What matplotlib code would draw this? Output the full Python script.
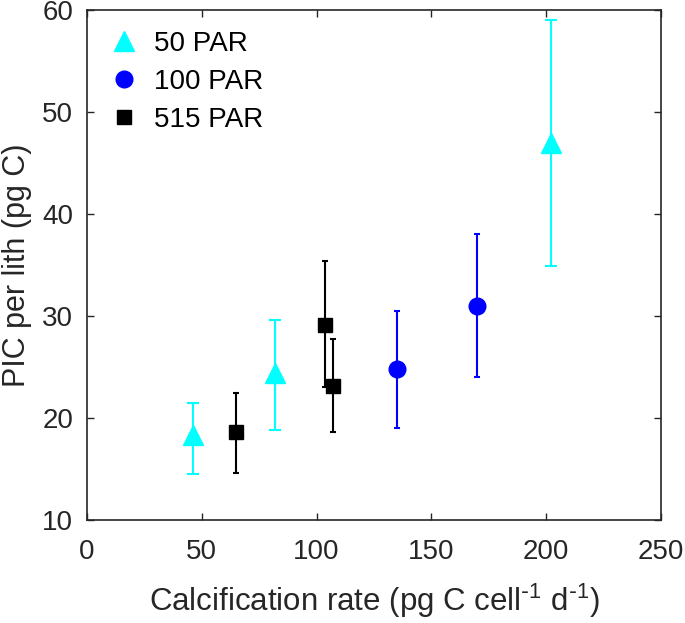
import matplotlib
matplotlib.use("Agg")
import matplotlib.pyplot as plt

plt.rcParams['font.family'] = ['Liberation Sans', 'DejaVu Sans']
plt.rcParams['mathtext.default'] = 'regular'

# 50 PAR
x50 = [46, 81.7, 202]
y50 = [18.3, 24.4, 47.0]
lo50 = [14.5, 18.8, 34.9]
hi50 = [21.5, 29.6, 59.0]

# 100 PAR
x100 = [135, 169.7]
y100 = [24.8, 31.0]
lo100 = [19.0, 24.0]
hi100 = [30.5, 38.0]

# 515 PAR
x515 = [64.8, 103.5, 107]
y515 = [18.6, 29.1, 23.1]
lo515 = [14.6, 23.0, 18.6]
hi515 = [22.5, 35.4, 27.7]

xticks = [0, 50, 100, 150, 200, 250]
yticks = [10, 20, 30, 40, 50, 60]

fig = plt.figure(figsize=(6.85, 6.23), dpi=100)
ax = fig.add_axes([87/685, 103/623, (661-87)/685, (520-10)/623])

def err(y, lo, hi):
    return [[a - b for a, b in zip(y, lo)], [b - a for a, b in zip(y, hi)]]

ax.errorbar(x50, y50, yerr=err(y50, lo50, hi50), fmt='^', color='cyan', ms=14,
            elinewidth=1.5, capsize=4, capthick=1.5, label='50 PAR')
ax.errorbar(x100, y100, yerr=err(y100, lo100, hi100), fmt='o', color='blue', ms=12,
            elinewidth=1.5, capsize=2, capthick=1.5, label='100 PAR')
ax.errorbar(x515, y515, yerr=err(y515, lo515, hi515), fmt='s', color='black', ms=10,
            elinewidth=1.5, capsize=2, capthick=1.5, label='515 PAR')

ax.set_xlim(0, 250)
ax.set_ylim(10, 60)
ax.set_xticks(xticks)
ax.set_yticks(yticks)
ax.tick_params(direction='in', top=True, right=True, labelsize=20, length=5,
               width=1, colors='#262626')
ax.tick_params(axis='x', pad=14)
ax.tick_params(axis='y', pad=10)
for s in ax.spines.values():
    s.set_color('#262626')
    s.set_linewidth(1.2)

ax.set_xlabel(r'Calcification rate (pg C cell$^{\text{-}1}$ d$^{\text{-}1}$)', fontsize=22.5,
              color='#262626', labelpad=12)
ax.set_ylabel('PIC per lith (pg C)', fontsize=22, color='#262626', labelpad=7)

handles, labels = ax.get_legend_handles_labels()
handles = [h[0] for h in handles]
ax.legend(handles, labels, loc='upper left', frameon=False, fontsize=20,
          handletextpad=0.45, labelspacing=0.43, borderaxespad=0.35, handlelength=1.2)

fig.savefig('out.png', dpi=100)
